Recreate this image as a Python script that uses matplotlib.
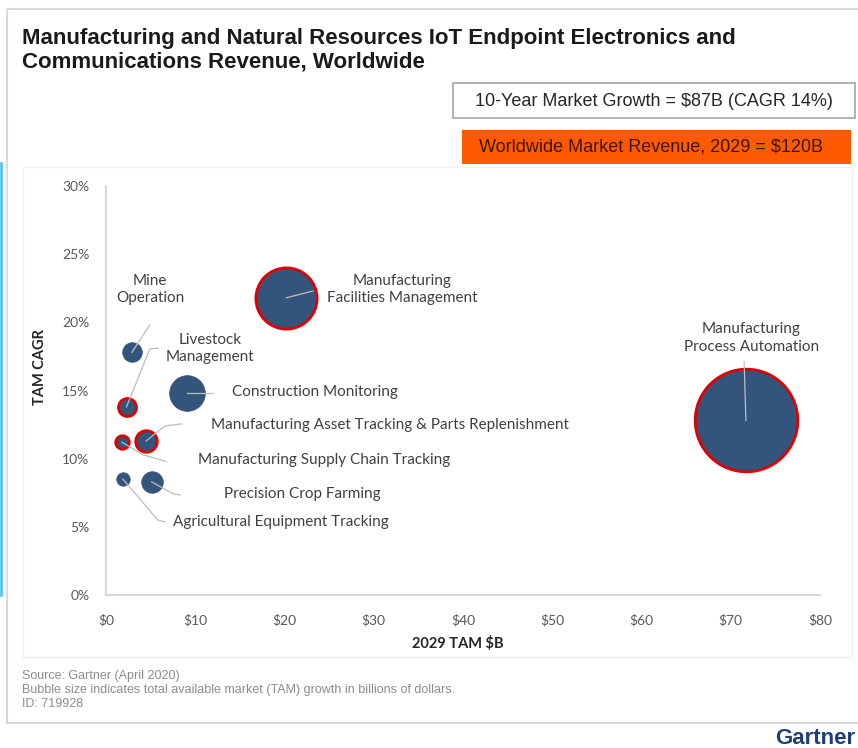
import matplotlib.pyplot as plt
from matplotlib.patches import Rectangle
from matplotlib.lines import Line2D

# Segment data
segments = [
    "Manufacturing\nProcess Automation",
    "Manufacturing\nFacilities Management",
    "Construction Monitoring",
    "Mine\nOperation",
    "Livestock\nManagement",
    "Manufacturing Asset Tracking & Parts Replenishment",
    "Manufacturing Supply Chain Tracking",
    "Agricultural Equipment Tracking",
    "Precision Crop Farming",
]
tam_2029 = [71.7, 20.2, 9.1, 2.9, 2.3, 4.5, 1.8, 1.9, 5.1]       # $B
tam_cagr = [12.8, 21.8, 14.8, 17.8, 13.8, 11.3, 11.2, 8.5, 8.3]   # %
tam_growth = [52.0, 18.5, 6.3, 1.9, 1.6, 2.3, 0.9, 0.9, 2.3]      # $B, bubble size
highlighted = [True, True, False, False, True, True, True, False, False]

x_ticks = [0, 10, 20, 30, 40, 50, 60, 70, 80]
y_ticks = [0, 5, 10, 15, 20, 25, 30]

# label placement (data coords) and leader-line bends
label_pos = [(72.3, 18.85), (33.2, 22.4), (14.1, 14.9), (4.93, 22.4), (11.65, 18.1),
             (11.8, 12.5), (10.3, 9.9), (7.5, 5.36), (13.2, 7.4)]
label_ha = ["center", "center", "left", "center", "center", "left", "left", "left", "left"]
leader_pts = [
    [(71.5, 17.1)],
    [(23.2, 22.3)],
    [(12.0, 14.8)],
    [(4.9, 19.8)],
    [(4.9, 18.05), (5.8, 18.1)],
    [(6.6, 12.4), (8.5, 12.55)],
    [(4.1, 10.3), (6.7, 9.8)],
    [(5.8, 5.5), (6.6, 5.36)],
    [(7.6, 7.4), (8.3, 7.34)],
]

W, H = 858, 748
fig = plt.figure(figsize=(W / 100, H / 100), dpi=100)
fig.patch.set_facecolor("white")

# pixel overlay for frame, title, boxes, footer
ov = fig.add_axes([0, 0, 1, 1])
ov.set_xlim(0, W)
ov.set_ylim(H, 0)
ov.axis("off")
ov.add_patch(Rectangle((7, 9), 860, 714, fill=False, edgecolor="#d9d9d9", lw=1.5))
ov.add_patch(Rectangle((23, 167), 829, 490, fill=False, edgecolor="#f0f0f0", lw=1))
ov.add_line(Line2D([1, 1], [163, 595], color="#3fc1f0", lw=1.8))

title_font = ["Liberation Sans", "DejaVu Sans"]
ov.text(22, 38, "Manufacturing and Natural Resources IoT Endpoint Electronics and",
        fontsize=16, fontweight="bold", family=title_font, color="#1a1a1a", va="center")
ov.text(22, 62, "Communications Revenue, Worldwide",
        fontsize=16, fontweight="bold", family=title_font, color="#1a1a1a", va="center")

ov.add_patch(Rectangle((453, 83), 402, 35, facecolor="white", edgecolor="#a6a6a6", lw=1.2))
ov.text(654, 101, "10-Year Market Growth = $87B (CAGR 14%)", fontsize=13,
        family=title_font, color="#262626", ha="center", va="center")
ov.add_patch(Rectangle((462, 130), 389, 34, facecolor="#ff5a00", edgecolor="none"))
ov.text(651, 147, "Worldwide Market Revenue, 2029 = $120B", fontsize=13,
        family=title_font, color="#3a1500", ha="center", va="center")

foot = ["Source: Gartner (April 2020)",
        "Bubble size indicates total available market (TAM) growth in billions of dollars.",
        "ID: 719928"]
for i, line in enumerate(foot):
    ov.text(22, 676 + 14 * i, line, fontsize=9, family=title_font, color="#8c8c8c", va="center")
ov.text(855, 739, "Gartner", fontsize=16, fontweight="bold", family=title_font,
        color="#1d3f73", ha="right", va="center")

# bubble chart
ax = fig.add_axes([106 / W, 1 - 595 / H, 714 / W, 409 / H])
ax.set_facecolor("none")
k = 105
for i in range(len(segments)):
    ax.scatter(tam_2029[i], tam_cagr[i], s=tam_growth[i] * k, color="#34557b",
               edgecolors="#e00000" if highlighted[i] else "#34557b",
               linewidths=2 if highlighted[i] else 0.5, zorder=3, clip_on=False)
    pts = [(tam_2029[i], tam_cagr[i])] + leader_pts[i]
    ax.plot([p[0] for p in pts], [p[1] for p in pts], color="#bdbdbd", lw=0.9, zorder=4)
    ax.text(label_pos[i][0], label_pos[i][1], segments[i], ha=label_ha[i], va="center",
            fontsize=11, family=["Lato", "DejaVu Sans"], color="#404040",
            linespacing=1.3, zorder=5)

ax.set_xlim(0, 80)
ax.set_ylim(0, 30)
ax.set_xticks(x_ticks)
ax.set_xticklabels([f"${v}" for v in x_ticks])
ax.set_yticks(y_ticks)
ax.set_yticklabels([f"{v}%" for v in y_ticks])
ax.tick_params(length=0, labelsize=10, labelcolor="#595959")
ax.tick_params(axis="x", pad=14)
ax.tick_params(axis="y", pad=12)
for lab in ax.get_xticklabels() + ax.get_yticklabels():
    lab.set_family(["Lato", "DejaVu Sans"])
for side in ["top", "right"]:
    ax.spines[side].set_visible(False)
for side in ["left", "bottom"]:
    ax.spines[side].set_color("#d9d9d9")
    ax.spines[side].set_linewidth(1.5)

ov.text(458, 644, "2029 TAM $B", fontsize=10.5, fontweight="bold",
        family=["Lato", "DejaVu Sans"], color="#262626", ha="center", va="center")
ov.text(40, 367, "TAM CAGR", fontsize=10.5, fontweight="bold", rotation=90,
        family=["Lato", "DejaVu Sans"], color="#262626", ha="center", va="center")

fig.savefig("out.png", dpi=100)
